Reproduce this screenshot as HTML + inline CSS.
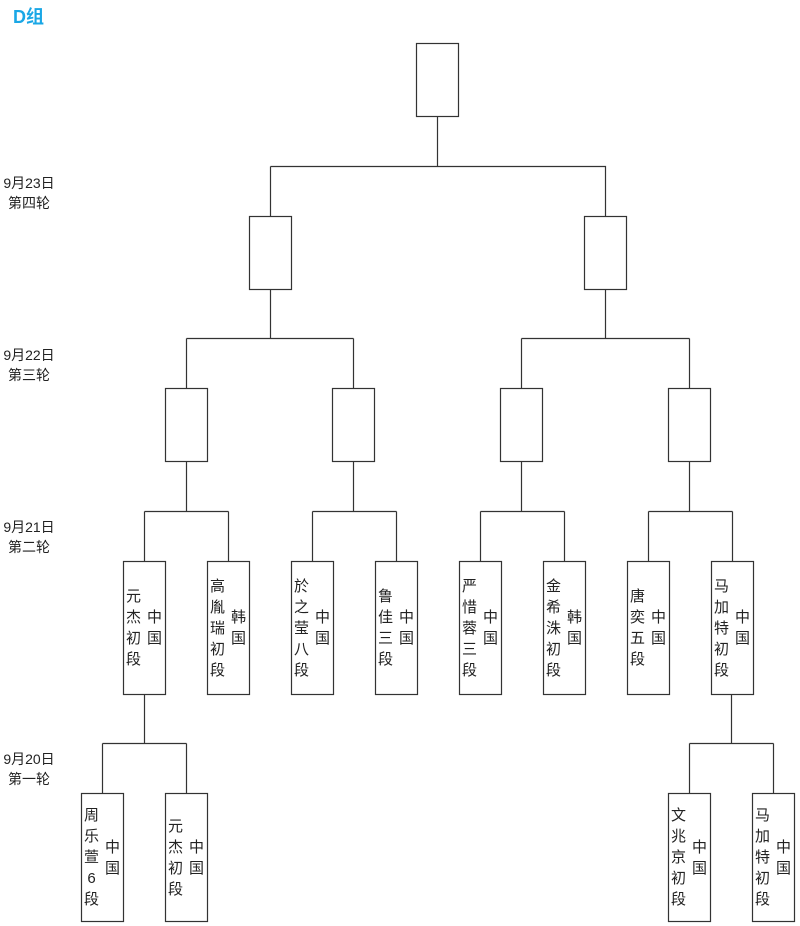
<!DOCTYPE html>
<html><head><meta charset="utf-8"><style>
body{margin:0;width:800px;height:926px;background:#fff;position:relative;overflow:hidden;font-family:"Liberation Sans","Noto Sans CJK SC",sans-serif;}
.t{position:absolute;font-size:18px;font-weight:bold;color:#1aa7e6;left:13px;top:3px;}
.d{position:absolute;left:0;width:58px;text-align:center;font-size:14px;line-height:20px;color:#222;}
.b{position:absolute;display:flex;align-items:center;justify-content:flex-start;font-size:15px;color:#222;}
.c{width:15px;line-height:21px;word-break:break-all;text-align:center;}
.n{margin-left:3px;}
.k{margin-left:6px;}
svg{position:absolute;left:0;top:0;}
</style></head><body>
<svg width="800" height="926" fill="none" stroke="#333" stroke-width="1.2">
<rect x="416.5" y="43.5" width="42" height="73"/>
<path d="M437.5 116.5V166.5M270.5 166.5H605.5V216.5M270.5 166.5V216.5"/>
<rect x="249.5" y="216.5" width="42" height="73"/>
<rect x="584.5" y="216.5" width="42" height="73"/>
<path d="M270.5 289.5V338.5M186.5 338.5H353.5M186.5 338.5V388.5M353.5 338.5V388.5"/>
<path d="M605.5 289.5V338.5M521.5 338.5H689.5M521.5 338.5V388.5M689.5 338.5V388.5"/>
<rect x="165.5" y="388.5" width="42" height="73"/>
<rect x="332.5" y="388.5" width="42" height="73"/>
<rect x="500.5" y="388.5" width="42" height="73"/>
<rect x="668.5" y="388.5" width="42" height="73"/>
<path d="M186.5 461.5V511.5M144.5 511.5H228.5M144.5 511.5V561.5M228.5 511.5V561.5"/>
<path d="M353.5 461.5V511.5M312.5 511.5H396.5M312.5 511.5V561.5M396.5 511.5V561.5"/>
<path d="M521.5 461.5V511.5M480.5 511.5H564.5M480.5 511.5V561.5M564.5 511.5V561.5"/>
<path d="M689.5 461.5V511.5M648.5 511.5H732.5M648.5 511.5V561.5M732.5 511.5V561.5"/>
<rect x="123.5" y="561.5" width="42" height="133"/>
<rect x="207.5" y="561.5" width="42" height="133"/>
<rect x="291.5" y="561.5" width="42" height="133"/>
<rect x="375.5" y="561.5" width="42" height="133"/>
<rect x="459.5" y="561.5" width="42" height="133"/>
<rect x="543.5" y="561.5" width="42" height="133"/>
<rect x="627.5" y="561.5" width="42" height="133"/>
<rect x="711.5" y="561.5" width="42" height="133"/>
<path d="M144.5 694.5V743.5M102.5 743.5H186.5M102.5 743.5V793.5M186.5 743.5V793.5"/>
<path d="M731.5 694.5V743.5M689.5 743.5H773.5M689.5 743.5V793.5M773.5 743.5V793.5"/>
<rect x="81.5" y="793.5" width="42" height="128"/>
<rect x="165.5" y="793.5" width="42" height="128"/>
<rect x="668.5" y="793.5" width="42" height="128"/>
<rect x="752.5" y="793.5" width="42" height="128"/>
</svg>
<div class="t">D组</div>
<div class="d" style="top:173px">9月23日<br>第四轮</div>
<div class="d" style="top:345px">9月22日<br>第三轮</div>
<div class="d" style="top:517px">9月21日<br>第二轮</div>
<div class="d" style="top:749px">9月20日<br>第一轮</div>

<div class="b" style="left:123px;top:561px;width:43px;height:134px"><div class="c n">元杰初段</div><div class="c k">中国</div></div>
<div class="b" style="left:207px;top:561px;width:43px;height:134px"><div class="c n">高胤瑞初段</div><div class="c k">韩国</div></div>
<div class="b" style="left:291px;top:561px;width:43px;height:134px"><div class="c n">於之莹八段</div><div class="c k">中国</div></div>
<div class="b" style="left:375px;top:561px;width:43px;height:134px"><div class="c n">鲁佳三段</div><div class="c k">中国</div></div>
<div class="b" style="left:459px;top:561px;width:43px;height:134px"><div class="c n">严惜蓉三段</div><div class="c k">中国</div></div>
<div class="b" style="left:543px;top:561px;width:43px;height:134px"><div class="c n">金希洙初段</div><div class="c k">韩国</div></div>
<div class="b" style="left:627px;top:561px;width:43px;height:134px"><div class="c n">唐奕五段</div><div class="c k">中国</div></div>
<div class="b" style="left:711px;top:561px;width:43px;height:134px"><div class="c n">马加特初段</div><div class="c k">中国</div></div>

<div class="b" style="left:81px;top:793px;width:43px;height:129px"><div class="c n">周乐萱6段</div><div class="c k">中国</div></div>
<div class="b" style="left:165px;top:793px;width:43px;height:129px"><div class="c n">元杰初段</div><div class="c k">中国</div></div>
<div class="b" style="left:668px;top:793px;width:43px;height:129px"><div class="c n">文兆京初段</div><div class="c k">中国</div></div>
<div class="b" style="left:752px;top:793px;width:43px;height:129px"><div class="c n">马加特初段</div><div class="c k">中国</div></div>
</body></html>
